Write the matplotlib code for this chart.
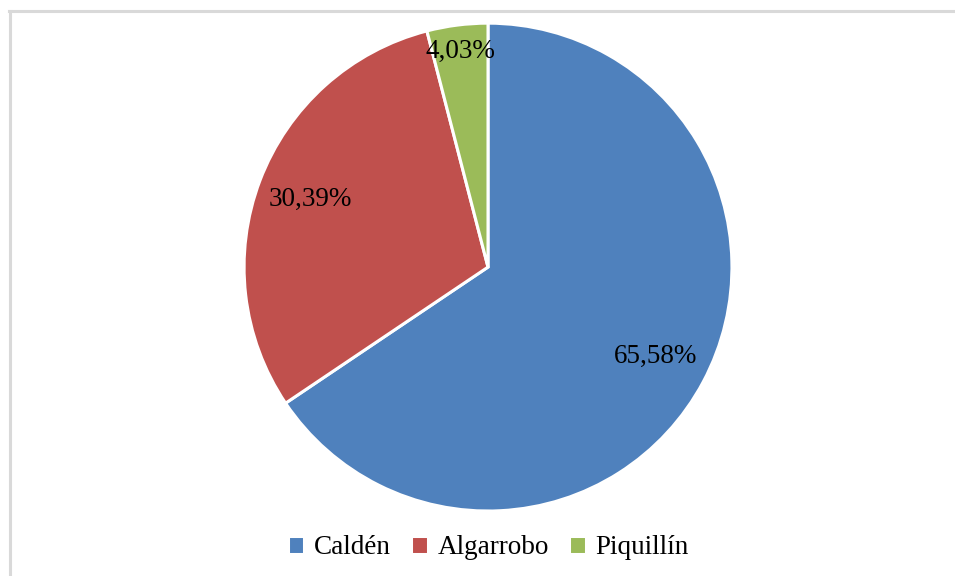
import numpy as np
import matplotlib.pyplot as plt
from matplotlib.lines import Line2D

# datos
especies = ["Caldén", "Algarrobo", "Piquillín"]
porcentajes = [65.58, 30.39, 4.03]
etiquetas = ["65,58%", "30,39%", "4,03%"]
colores = ["#4F81BD", "#C0504D", "#9BBB59"]
dist_etiqueta = [0.78, 0.78, 0.89]

plt.rcParams['font.family'] = ['Liberation Serif', 'DejaVu Serif']

fig = plt.figure(figsize=(9.55, 5.76), dpi=100)
ax = fig.add_axes([0.2555, 0.1128, 0.511, 0.847])

wedges, _ = ax.pie(porcentajes, colors=colores, startangle=90,
                   counterclock=False, radius=1,
                   wedgeprops=dict(edgecolor='white', linewidth=2.2))
ax.set_xlim(-1, 1)
ax.set_ylim(-1, 1)
ax.set_aspect('equal')

# etiquetas de porcentaje
for w, txt, d in zip(wedges, etiquetas, dist_etiqueta):
    ang = np.deg2rad((w.theta1 + w.theta2) / 2)
    ax.text(d * np.cos(ang), d * np.sin(ang), txt, ha='center', va='center',
            fontsize=19.5, color='black')

fig.legend(wedges, especies, loc='center', bbox_to_anchor=(0.511, 0.049),
           ncol=3, frameon=False, fontsize=19.5, handlelength=0.62,
           handleheight=0.62, handletextpad=0.35, columnspacing=0.75)

# borde del grafico
fig.add_artist(Line2D([9.5 / 955, 9.5 / 955], [0, 1 - 10.5 / 576],
                      transform=fig.transFigure, color='#D9D9D9', lw=2.2))
fig.add_artist(Line2D([8.5 / 955, 1], [1 - 11 / 576, 1 - 11 / 576],
                      transform=fig.transFigure, color='#D9D9D9', lw=2.2))

fig.savefig("out.png", dpi=100)
